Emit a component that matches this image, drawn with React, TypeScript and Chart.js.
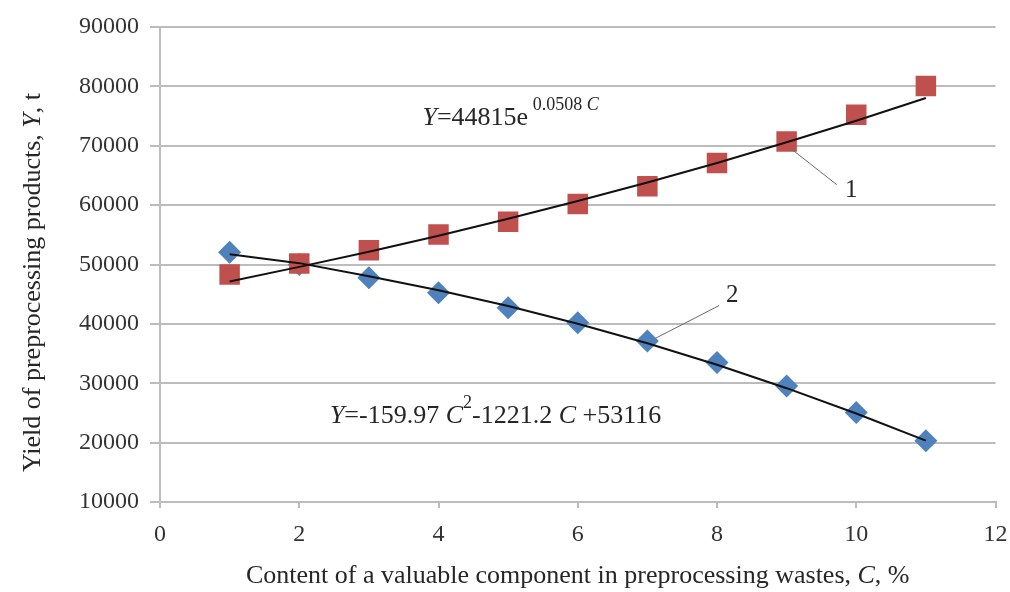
import { useEffect, useRef } from "react";
import { Chart, registerables } from "chart.js";

Chart.register(...registerables);

// ---- data ----
const contentC = [1, 2, 3, 4, 5, 6, 7, 8, 9, 10, 11];
const yieldCurve1 = [48300, 50170, 52400, 55040, 57180, 60200, 63160, 67090, 70730, 75210, 80080];
const yieldCurve2 = [52070, 50000, 47770, 45240, 42720, 40200, 37110, 33480, 29550, 25080, 20300];
const trendCurve1 = [47150, 49600, 52150, 54850, 57700, 60700, 63800, 67100, 70600, 74200, 78050];
const trendCurve2 = [51730, 50230, 48010, 45670, 43010, 40030, 36730, 33110, 29170, 24910, 20330];
const xTickValues = [0, 2, 4, 6, 8, 10, 12];
const yTickValues = [10000, 20000, 30000, 40000, 50000, 60000, 70000, 80000, 90000];

const FONT = '"Liberation Serif", "Times New Roman", serif';
const GRID = "#bcbcbc";
const TEXT = "#262626";

type Seg = { text: string; italic?: boolean; sup?: boolean };

const eq1: Seg[] = [
  { text: "Y", italic: true },
  { text: "=44815e" },
  { text: " 0.0508 ", sup: true },
  { text: "C", sup: true, italic: true },
];
const eq2: Seg[] = [
  { text: "Y", italic: true },
  { text: "=-159.97 " },
  { text: "C", italic: true },
  { text: "2", sup: true },
  { text: "-1221.2 " },
  { text: "C", italic: true },
  { text: " +53116" },
];
const yTitle: Seg[] = [
  { text: "Yield of preprocessing products, " },
  { text: "Y", italic: true },
  { text: ", t" },
];
const xTitle: Seg[] = [
  { text: "Content of a valuable component in preprocessing wastes, " },
  { text: "C", italic: true },
  { text: ", %" },
];

function segFont(s: Seg, base: number) {
  const size = s.sup ? Math.round(base * 0.68) : base;
  return `${s.italic ? "italic " : ""}${size}px ${FONT}`;
}
function richWidth(ctx: CanvasRenderingContext2D, segs: Seg[], base: number) {
  let w = 0;
  for (const s of segs) {
    ctx.font = segFont(s, base);
    w += ctx.measureText(s.text).width;
  }
  return w;
}
function drawRich(ctx: CanvasRenderingContext2D, x: number, y: number, segs: Seg[], base: number) {
  let cx = x;
  ctx.textBaseline = "alphabetic";
  ctx.textAlign = "left";
  for (const s of segs) {
    ctx.font = segFont(s, base);
    const dy = s.sup ? -base * 0.55 : 0;
    ctx.fillText(s.text, cx, y + dy);
    cx += ctx.measureText(s.text).width;
  }
}

const annotationPlugin = {
  id: "annotations",
  afterDatasetsDraw(chart: any) {
    const ctx: CanvasRenderingContext2D = chart.ctx;
    const xs = chart.scales.x;
    const ys = chart.scales.y;
    const px = (v: number) => xs.getPixelForValue(v);
    const py = (v: number) => ys.getPixelForValue(v);
    ctx.save();
    ctx.fillStyle = TEXT;
    drawRich(ctx, px(3.77), py(73550), eq1, 26);
    drawRich(ctx, px(2.44), py(23380), eq2, 26);
    ctx.font = `25px ${FONT}`;
    ctx.fillText("1", px(9.84), py(61430));
    ctx.fillText("2", px(8.13), py(43750));
    ctx.strokeStyle = "#6a6a6a";
    ctx.lineWidth = 1;
    ctx.beginPath();
    ctx.moveTo(px(9.08), py(69340));
    ctx.lineTo(px(9.72), py(63450));
    ctx.moveTo(px(8.03), py(43080));
    ctx.lineTo(px(7.11), py(37530));
    ctx.stroke();
    ctx.restore();
  },
  afterDraw(chart: any) {
    const ctx: CanvasRenderingContext2D = chart.ctx;
    const ca = chart.chartArea;
    ctx.save();
    ctx.fillStyle = TEXT;
    const base = 26;
    const wx = richWidth(ctx, xTitle, base);
    drawRich(ctx, (ca.left + ca.right) / 2 - wx / 2, 583, xTitle, base);
    const wy = richWidth(ctx, yTitle, base);
    ctx.translate(40, (ca.top + ca.bottom) / 2 + 18);
    ctx.rotate(-Math.PI / 2);
    drawRich(ctx, -wy / 2, 0, yTitle, base);
    ctx.restore();
  },
};

export default function App() {
  const ref = useRef<HTMLCanvasElement | null>(null);
  useEffect(() => {
    document.body.style.margin = "0";
    if (!ref.current) return;
    const toPts = (ys: number[]) => contentC.map((c, i) => ({ x: c, y: ys[i] }));
    const chart = new Chart(ref.current, {
      type: "scatter",
      data: {
        datasets: [
          {
            label: "trend 1",
            data: toPts(trendCurve1),
            showLine: true,
            borderColor: "#111111",
            borderWidth: 2,
            pointRadius: 0,
            order: 0,
          },
          {
            label: "trend 2",
            data: toPts(trendCurve2),
            showLine: true,
            borderColor: "#111111",
            borderWidth: 2,
            pointRadius: 0,
            order: 0,
          },
          {
            label: "1",
            data: toPts(yieldCurve1),
            pointStyle: "rect",
            pointRadius: 14.5,
            backgroundColor: "#c0504d",
            borderColor: "#c0504d",
            borderWidth: 0,
            order: 1,
          },
          {
            label: "2",
            data: toPts(yieldCurve2),
            pointStyle: "rectRot",
            pointRadius: 11.5,
            backgroundColor: "#4f81bd",
            borderColor: "#4f81bd",
            borderWidth: 0,
            order: 2,
          },
        ],
      },
      options: {
        animation: false,
        responsive: true,
        maintainAspectRatio: false,
        layout: { padding: { top: 27, right: 13, left: 0, bottom: 0 } },
        plugins: { legend: { display: false }, tooltip: { enabled: false } },
        scales: {
          x: {
            type: "linear",
            min: 0,
            max: 12,
            afterBuildTicks: (s: any) => {
              s.ticks = xTickValues.map((v) => ({ value: v }));
            },
            ticks: {
              color: "#333333",
              font: { family: FONT, size: 24 },
              padding: 12,
              callback: (v: any) => String(v),
            },
            grid: { drawOnChartArea: false, drawTicks: true, tickLength: 6, color: GRID, lineWidth: 2 },
            border: { display: true, color: GRID, width: 2 },
            afterFit: (s: any) => {
              s.height = 90;
              s.paddingLeft = 0;
              s.paddingRight = 0;
            },
          },
          y: {
            type: "linear",
            min: 10000,
            max: 90000,
            afterBuildTicks: (s: any) => {
              s.ticks = yTickValues.map((v) => ({ value: v }));
            },
            ticks: {
              color: "#333333",
              font: { family: FONT, size: 24 },
              padding: 11,
              callback: (v: any) => String(v),
            },
            grid: { color: GRID, lineWidth: 2, tickLength: 10, drawTicks: true },
            border: { display: true, color: GRID, width: 2 },
            afterFit: (s: any) => {
              s.width = 160;
              s.paddingTop = 0;
              s.paddingBottom = 0;
            },
          },
        },
      },
      plugins: [annotationPlugin],
    } as any);
    return () => chart.destroy();
  }, []);
  return (
    <div style={{ width: 1010, height: 592, position: "relative", background: "#fff" }}>
      <canvas ref={ref} />
    </div>
  );
}
